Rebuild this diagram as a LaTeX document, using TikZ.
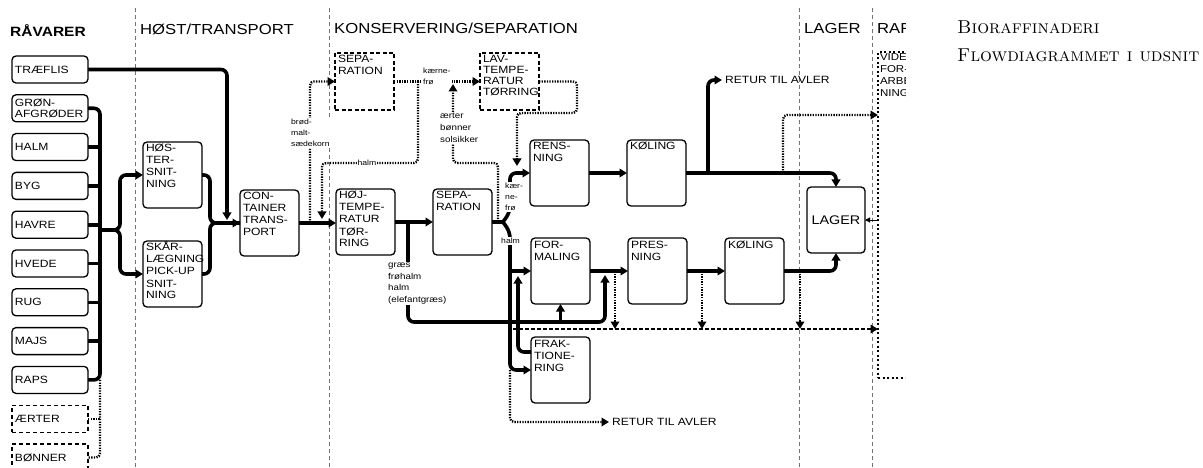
\documentclass[tikz,border=0pt]{standalone}
\usepackage{fontspec}
\newfontfamily\diafont[FakeStretch=1.15]{Liberation Sans}
\usetikzlibrary{arrows.meta, positioning}

\begin{document}
\begin{tikzpicture}[x=1pt, y=-1pt, >={Triangle[length=7.5pt,width=8.5pt]}]
    % Define styles for the nodes
    \tikzstyle{raw} = [
        rectangle, draw, rounded corners=4pt, line width=1.3pt,
        minimum width=76pt, minimum height=27pt, text width=70pt,
        inner sep=3pt, outer sep=0pt, align=left,
        font=\diafont\fontsize{10.5}{10.5}\selectfont
    ]
    \tikzstyle{rawopt} = [raw, rounded corners=0pt, dash pattern=on 4pt off 3pt]

    \tikzstyle{unit} = [
        rectangle, draw, rounded corners=4pt, line width=1.3pt,
        anchor=north west, text width=53pt, inner sep=3pt, outer sep=0pt,
        align=left, text height=7pt, text depth=53pt,
        font=\diafont\fontsize{10.5}{12}\selectfont
    ]
    \tikzstyle{unitopt} = [
        unit, rounded corners=0pt, dash pattern=on 4pt off 2.5pt,
        text depth=44pt
    ]
    \tikzstyle{store} = [
        rectangle, draw, rounded corners=4pt, line width=1.3pt,
        minimum width=58pt, minimum height=66pt, inner sep=2pt, outer sep=0pt,
        font=\diafont\fontsize{12.5}{14}\selectfont
    ]

    \tikzstyle{header} = [
        anchor=base west, inner sep=0,
        font=\diafont\fontsize{14.5}{16}\selectfont
    ]
    \tikzstyle{note} = [
        anchor=north west, inner sep=1pt, fill=white, align=left,
        font=\diafont\fontsize{7.5}{11}\selectfont
    ]
    \tikzstyle{retur} = [
        anchor=west, inner sep=3pt,
        font=\diafont\fontsize{10.5}{12}\selectfont
    ]

    \tikzstyle{flow} = [line width=3.6pt, rounded corners=6pt]
    \tikzstyle{side} = [
        line width=2.4pt, dash pattern=on 1.3pt off 1.3pt,
        rounded corners=4pt
    ]
    \tikzstyle{waste} = [line width=2pt, dash pattern=on 4pt off 2pt]
    \tikzstyle{divider} = [line width=0.8pt, black!55, dash pattern=on 4pt off 3pt]

    \useasboundingbox (0,0) rectangle (1203,468);

    % Column dividers
    \draw[divider] (135,8) -- (135,468);
    \draw[divider] (329,8) -- (329,468);
    \draw[divider] (799,8) -- (799,468);
    \draw[divider] (872,8) -- (872,468);

    % Headers
    \node[header, font=\diafont\bfseries\fontsize{13.5}{16}\selectfont]
        (h_raw) at (10,37) {RÅVARER};
    \node[header] (h_harv)  at (140,35) {HØST/TRANSPORT};
    \node[header] (h_cons)  at (334,34) {KONSERVERING/SEPARATION};
    \node[header] (h_store) at (804,34) {LAGER};

    % Title
    \node[anchor=base west, inner sep=0, font=\fontsize{18.7}{22}\selectfont]
        (title) at (957,34) {\textsc{Bioraffinaderi}};
    \node[anchor=base west, inner sep=0, font=\fontsize{18.7}{22}\selectfont]
        (subtitle) at (957,62) {\textsc{Flowdiagrammet i udsnit}};

    % Raw materials
    \node[raw, anchor=north west]    (traefl)  at (12,56) {TRÆFLIS};
    \node[raw, below=11.8pt of traefl]  (groen)   {GRØN-\\AFGRØDER};
    \node[raw, below=11.8pt of groen]   (halm)    {HALM};
    \node[raw, below=11.8pt of halm]    (byg)     {BYG};
    \node[raw, below=11.8pt of byg]     (havre)   {HAVRE};
    \node[raw, below=11.8pt of havre]   (hvede)   {HVEDE};
    \node[raw, below=11.8pt of hvede]   (rug)     {RUG};
    \node[raw, below=11.8pt of rug]     (majs)    {MAJS};
    \node[raw, below=11.8pt of majs]    (raps)    {RAPS};
    \node[rawopt, below=11.8pt of raps]   (aerter)  {ÆRTER};
    \node[rawopt, below=11.8pt of aerter] (boenner) {BØNNER};

    % Harvest / transport
    \node[unit] (hoest) at (143,142) {HØS-\\TER-\\SNIT-\\NING};
    \node[unit, below=33pt of hoest] (skaar) {SKÅR-\\LÆGNING\\PICK-UP\\SNIT-\\NING};
    \node[unit] (cont) at (240,190) {CON-\\TAINER\\TRANS-\\PORT};

    % Conservation / separation
    \node[unitopt] (sepa_top) at (335,53) {SEPA-\\RATION};
    \node[unitopt, font=\diafont\fontsize{10.5}{11}\selectfont]
        (lav) at (480,53) {LAV-\\TEMPE-\\RATUR\\TØRRING};
    \node[unit] (hoej) at (336,189) {HØJ-\\TEMPE-\\RATUR\\TØR-\\RING};
    \node[unit, right=38pt of hoej] (sepa) {SEPA-\\RATION};
    \node[unit] (rens) at (530,140) {RENS-\\NING};
    \node[unit, right=38pt of rens] (koel_a) {KØLING};
    \node[unit] (formal) at (531,238) {FOR-\\MALING};
    \node[unit, below=33pt of formal] (frak) {FRAK-\\TIONE-\\RING};
    \node[unit, right=38pt of formal] (pres) {PRES-\\NING};
    \node[unit, right=38pt of pres] (koel_b) {KØLING};

    % Storage
    \node[store, anchor=north west] (lager) at (807,187) {LAGER};

    % Refining (cut off at the right edge)
    \begin{scope}
        \clip (0,0) rectangle (905,468);
        \node[header] (h_raff) at (877,34) {RAFF};
        \node[unit, rounded corners=0pt, dash pattern=on 2pt off 2.5pt,
            line width=1.4pt, inner sep=2pt, text depth=315pt,
            font=\diafont\fontsize{10}{12}\selectfont]
            (vide) at (878,52) {VIDE-\\FOR-\\ARBE-\\NING};
    \end{scope}

    \node[retur] (retur_a) at (722,80) {RETUR TIL AVLER};
    \node[retur] (retur_b) at (609,422) {RETUR TIL AVLER};

    % Junctions
    \coordinate (bus)      at (100,230);
    \coordinate (split)    at (120,230);
    \coordinate (merge)    at (210,223);
    \coordinate (tdrop)    at (227,220);
    \coordinate (brodJ)    at (310,223);
    \coordinate (kfJ)      at (418,81.5);
    \coordinate (halmBend) at (322,163);
    \coordinate (halmDrop) at (322,219);
    \coordinate (aeJ)      at (498,219);
    \coordinate (aeBend)   at (453,163);
    \coordinate (aeTip)    at (453,84);
    \coordinate (lavOut)   at (577,113);
    \coordinate (lavDrop)  at (517,166);
    \coordinate (graesJ)   at (408,222);
    \coordinate (graesBend) at (408,322);
    \coordinate (presIn)   at (605,275);
    \coordinate (yJ)       at (503,222);
    \coordinate (yUp)      at (510,212);
    \coordinate (yDown)    at (510,232);
    \coordinate (frakUp)   at (518,276);
    \coordinate (wasteStart) at (513,329);
    \coordinate (dTop)     at (782,115);
    \coordinate[right=22pt of koel_a] (retJ);
    \coordinate[right=97pt of koel_a] (dJ);
    \coordinate[right=25pt of formal] (dropA);
    \coordinate[right=15pt of pres]   (dropB);
    \coordinate[right=16pt of koel_b] (dropC);

    % Raw materials -> bus
    \draw[flow] (groen.east) -| (bus) |- (raps.east);
    \draw[flow] (halm.east)  -- (halm.east -| bus);
    \draw[flow] (byg.east)   -- (byg.east -| bus);
    \draw[flow] (havre.east) -- (havre.east -| bus);
    \draw[flow] (hvede.east) -- (hvede.east -| bus);
    \draw[flow] (rug.east)   -- (rug.east -| bus);
    \draw[flow] (majs.east)  -- (majs.east -| bus);
    \draw[side] (raps.east -| bus) |- (boenner.east);
    \draw[side] (aerter.east) -- (aerter.east -| bus);

    % Bus -> harvest -> container
    \draw[flow, ->] (bus) -- (split) |- (hoest.west);
    \draw[flow, ->] (bus) -- (split) |- (skaar.west);
    \draw[flow] (skaar.east) -| (merge) -- (cont.west);
    \draw[flow, ->] (hoest.east) -| (merge) -- (cont.west);
    \draw[flow, ->] (traefl.east) -| (tdrop);

    % Container -> drying -> separation
    \draw[flow, ->] (cont.east) -- (cont.east -| hoej.west);
    \draw[side, ->] (brodJ) |- (sepa_top.west);
    \draw[side, ->] (sepa_top.east) -- (lav.west);
    \draw[side, ->] (kfJ) |- (halmBend) -- (halmDrop);
    \draw[side, ->] (aeJ) |- (aeBend) -- (aeTip);
    \draw[side, ->] (lav.east) -| (lavOut) -| (lavDrop);
    \draw[flow, ->] (hoej.east) -- (hoej.east -| sepa.west);

    % Grass line
    \draw[flow, ->] (graesJ) -- (graesBend) -| (presIn);
    \draw[flow, ->] (formal.south |- graesBend) -- (formal.south);

    % Separation -> cleaning / forming / fractionation
    \draw[flow] (sepa.east) -- (yJ);
    \draw[flow, ->] (yJ) -- (yUp) |- (rens.west);
    \draw[flow, ->] (yJ) -- (yDown) |- (frak.west);
    \draw[flow, ->] (formal.west -| yDown) -- (formal.west);
    \draw[flow, ->] ([yshift=18pt]frak.west) -| (frakUp);
    \draw[side, ->] (frak.west -| yDown) |- (retur_b.west);

    % Upper line -> storage
    \draw[flow, ->] (rens.east) -- (koel_a.west);
    \draw[flow, ->] (koel_a.east) -| (lager.north);
    \draw[flow, ->] (retJ) |- (retur_a.west);
    \draw[side, ->] (dJ) |- (vide.west |- dTop);

    % Lower line -> storage
    \draw[flow, ->] (formal.east) -- (pres.west);
    \draw[flow, ->] (pres.east) -- (koel_b.west);
    \draw[flow, ->] (koel_b.east) -| (lager.south);

    % Residue line
    \draw[waste, ->] (wasteStart) -- (wasteStart -| vide.west);
    \draw[side, ->] (dropA) -- (dropA |- wasteStart);
    \draw[side, ->] (dropB) -- (dropB |- wasteStart);
    \draw[side, ->] (dropC) -- (dropC |- wasteStart);
    \draw[line width=1pt, -{Triangle[length=5pt,width=5pt]}]
        (vide.west |- lager.east) -- (lager.east);

    % Flow labels
    \node[note] (l_brod)   at (290,118) {brød-\\malt-\\sædekorn};
    \node[note, anchor=center] (l_halm_a) at (367,163) {halm};
    \node[note] (l_kf)     at (422,67)  {kærne-\\frø};
    \node[note, font=\diafont\fontsize{8.5}{12}\selectfont]
        (l_ae) at (439,112) {ærter\\bønner\\solsikker};
    \node[note, font=\diafont\fontsize{8.5}{11.5}\selectfont]
        (l_graes) at (387,262) {græs\\frøhalm\\halm\\(elefantgræs)};
    \node[note] (l_kf_b)   at (504,182) {kær-\\ne-\\frø};
    \node[note] (l_halm_b) at (500,237) {halm};

\end{tikzpicture}
\end{document}
